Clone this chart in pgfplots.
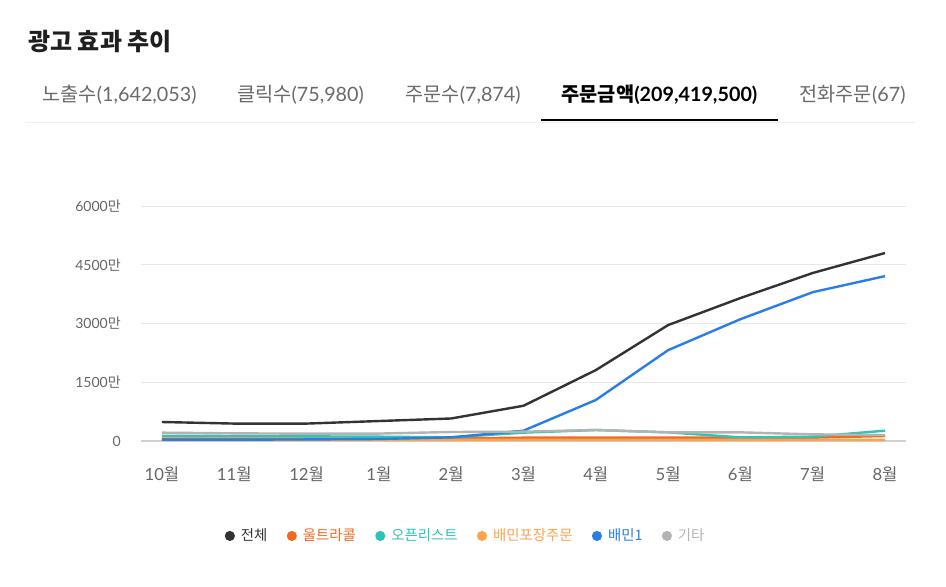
\documentclass[border=0pt]{standalone}
\usepackage{fontspec}
\usepackage{pgfplots}
\pgfplotsset{compat=1.18}
\setmainfont{Lato}
\newfontfamily\kr{Noto Sans CJK KR}

\definecolor{cAll}{HTML}{333333}
\definecolor{cUltra}{HTML}{F26A21}
\definecolor{cOpen}{HTML}{2EC4B8}
\definecolor{cPack}{HTML}{FBA44C}
\definecolor{cBmin}{HTML}{2B7DE6}
\definecolor{cEtc}{HTML}{B3B3B3}
\definecolor{gridc}{HTML}{E8E8E8}
\definecolor{axisc}{HTML}{D0D0D0}
\definecolor{labc}{HTML}{666666}
\definecolor{tabc}{HTML}{6A6A6A}
\definecolor{sepc}{HTML}{EEEEEE}

\begin{document}
\begin{tikzpicture}
% page furniture, in pixel units (y downwards)
\begin{scope}[x=0.75pt,y=-0.75pt]
\fill[white] (0,0) rectangle (946,586);
\node[anchor=west, inner sep=0pt, text=black!88] at (28,42)
  {\fontsize{18}{22}\selectfont\kr\bfseries 광고 효과 추이};
\begin{scope}[every node/.style={inner sep=0pt, font=\fontsize{14.8}{18}\selectfont}]
\node[text=tabc] at (119.5,95) {{\kr 노출수}(1,642,053)};
\node[text=tabc] at (300.5,95) {{\kr 클릭수}(75,980)};
\node[text=tabc] at (463,95) {{\kr 주문수}(7,874)};
\node[text=black] at (659.5,95) {\bfseries{\kr 주문금액}(209,419,500)};
\node[text=tabc] at (852.5,95) {{\kr 전화주문}(67)};
\end{scope}
\draw[sepc, line width=0.75pt] (25,122) -- (915,122);
\draw[black, line width=1.5pt] (541,120) -- (778,120);
\end{scope}

\begin{axis}[
    at={(105.75pt,-330.75pt)}, anchor=south west,
    scale only axis,
    width=573.75pt, height=176.25pt,
    xmin=-0.29, xmax=10.29,
    ymin=0, ymax=6000,
    clip=false,
    axis line style={draw=none},
    major tick length=0pt,
    xtick={0,...,10},
    xticklabels={10{\kr 월},11{\kr 월},12{\kr 월},1{\kr 월},2{\kr 월},3{\kr 월},4{\kr 월},5{\kr 월},6{\kr 월},7{\kr 월},8{\kr 월}},
    ytick={1500,3000,4500,6000},
    yticklabels={1500{\kr 만},3000{\kr 만},4500{\kr 만},6000{\kr 만}},
    extra y ticks={0},
    extra y tick labels={0},
    extra y tick style={grid style={color=axisc, line width=1.1pt}},
    ymajorgrids,
    grid style={color=gridc, line width=0.75pt},
    yticklabel style={font=\fontsize{10.5}{12}\selectfont, text=labc, inner sep=0pt, xshift=-15pt},
    xticklabel style={font=\fontsize{12.5}{14}\selectfont, text=labc, inner sep=0pt, yshift=-19pt},
    legend columns=6,
    legend style={draw=none, fill=none, at={(0.4248,-0.404)}, anchor=center,
      font=\fontsize{10.8}{13}\selectfont,
      /tikz/every odd column/.append style={column sep=2.5pt},
      /tikz/every even column/.append style={column sep=12.5pt}},
    legend image code/.code={\fill[draw=none] (3.8pt,0pt) circle (3.8pt);},
    every axis plot/.append style={line width=1.8pt, line join=round},
]
% 전체
\addplot[color=cAll] coordinates {(0,485) (1,445) (2,445) (3,510) (4,575) (5,900) (6,1810) (7,2960) (8,3650) (9,4290) (10,4800)};
\addlegendentry{\textcolor{cAll}{\kr 전체}}
% 울트라콜
\addplot[color=cUltra] coordinates {(0,60) (1,60) (2,60) (3,62) (4,65) (5,85) (6,85) (7,85) (8,85) (9,85) (10,128)};
\addlegendentry{\textcolor{cUltra}{\kr 울트라콜}}
% 오픈리스트
\addplot[color=cOpen] coordinates {(0,135) (1,128) (2,119) (3,111) (4,94) (5,213) (6,281) (7,221) (8,94) (9,111) (10,264)};
\addlegendentry{\textcolor{cOpen}{\kr 오픈리스트}}
% 배민포장주문
\addplot[color=cPack] coordinates {(0,26) (1,26) (2,26) (3,26) (4,28) (5,30) (6,30) (7,30) (8,28) (9,28) (10,30)};
\addlegendentry{\textcolor{cPack}{\kr 배민포장주문}}
% 배민1
\addplot[color=cBmin] coordinates {(0,34) (1,34) (2,40) (3,51) (4,94) (5,264) (6,1047) (7,2320) (8,3110) (9,3800) (10,4210)};
\addlegendentry{\textcolor{cBmin}{\kr 배민1}}
% 기타
\addplot[color=cEtc] coordinates {(0,213) (1,196) (2,187) (3,190) (4,230) (5,238) (6,281) (7,221) (8,221) (9,170) (10,153)};
\addlegendentry{\textcolor{cEtc}{\kr 기타}}
\end{axis}
\end{tikzpicture}
\end{document}
